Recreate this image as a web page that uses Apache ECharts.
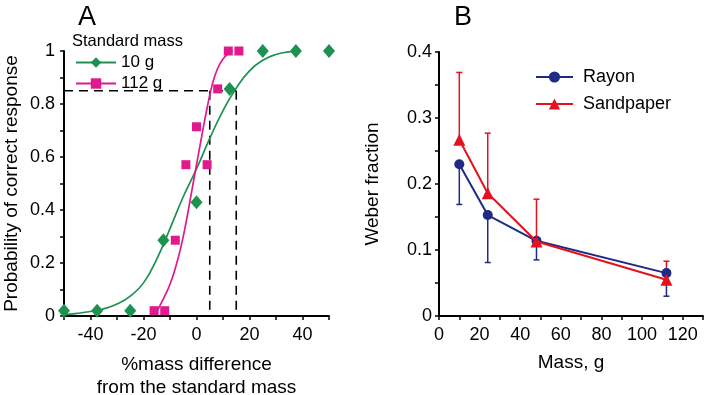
<!DOCTYPE html>
<html>
<head>
<meta charset="utf-8">
<script src="https://cdn.jsdelivr.net/npm/echarts@6/dist/echarts.min.js"></script>
<style>html,body{margin:0;padding:0;background:#fff;}#main{width:706px;height:395px;}</style>
</head>
<body>
<div id="main"></div>
<script>
// ---- Panel A data ----
const diff10 = [-50, -37.5, -25, -12.5, 0, 12.5, 25, 37.5, 50];
const prob10 = [0.02, 0.02, 0.02, 0.286, 0.429, 0.857, 1, 1, 1];
const diff112 = [-16, -12, -8, -4, 0, 4, 8, 12, 16];
const prob112 = [0.02, 0.02, 0.286, 0.571, 0.714, 0.571, 0.857, 1, 1];
// fitted curves
const fit10X = [-50, -45, -40, -35, -30, -25, -20, -15, -10, -5, 0, 5, 10, 15, 20, 25, 30, 35, 37.5];
const fit10Y = [0.005, 0.01, 0.017, 0.027, 0.045, 0.075, 0.125, 0.215, 0.33, 0.45, 0.555, 0.67, 0.775, 0.86, 0.925, 0.965, 0.987, 0.997, 1.0];
const fit112X = [-15, -14, -12, -10, -8, -6, -4, -2, 0, 2, 4, 6, 8, 10, 12, 13.5];
const fit112Y = [0.015, 0.035, 0.075, 0.12, 0.18, 0.255, 0.35, 0.46, 0.57, 0.68, 0.785, 0.875, 0.935, 0.97, 0.99, 1.0];
// threshold (dashed) lines
const thresholdP = 0.85;
const thresholdX = [5, 15];
// ---- Panel B data ----
const mass = [10, 24, 48, 112];
const rayon = [0.23, 0.153, 0.114, 0.065];
const rayonLow = [0.169, 0.081, 0.085, 0.030];
const sand = [0.267, 0.186, 0.113, 0.055];
const sandHigh = [0.369, 0.277, 0.177, 0.083];

const GREEN = '#1c9150', PINK = '#e0198c', NAVY = '#1f2a86', RED = '#e3121e';
const FONT = 'Liberation Sans, Arial, sans-serif';

const zip = (a, b) => a.map((v, i) => [v, b[i]]);

function errRender(color) {
  return function (params, api) {
    const x = api.value(0);
    const p1 = api.coord([x, api.value(1)]);
    const p2 = api.coord([x, api.value(2)]);
    return {
      type: 'group',
      children: [
        { type: 'line', shape: { x1: p1[0], y1: p1[1], x2: p2[0], y2: p2[1] }, style: { stroke: color, lineWidth: 1.5 } },
        { type: 'line', shape: { x1: p2[0] - 3, y1: p2[1], x2: p2[0] + 3, y2: p2[1] }, style: { stroke: color, lineWidth: 1.5 } }
      ]
    };
  };
}

const axisCommon = {
  axisLine: { onZero: false, lineStyle: { color: '#000', width: 2 } },
  axisTick: { length: 4, lineStyle: { color: '#000', width: 1.5 } },
  splitLine: { show: false },
  nameTextStyle: { color: '#000', fontSize: 19, fontFamily: FONT },
};

const chart = echarts.init(document.getElementById('main'), null, { renderer: 'canvas' });
chart.setOption({
  animation: false,
  backgroundColor: '#fff',
  textStyle: { fontFamily: FONT },
  title: [
    { text: 'A', left: 73, top: -1, textStyle: { fontSize: 27, fontWeight: 'normal', color: '#000', fontFamily: FONT } },
    { text: 'B', left: 449, top: -1, textStyle: { fontSize: 27, fontWeight: 'normal', color: '#000', fontFamily: FONT } }
  ],
  graphic: [
    { type: 'text', left: 72, top: 33, style: { text: 'Standard mass', fontSize: 16.5, fill: '#000', fontFamily: FONT } }
  ],
  legend: [
    { data: ['10 g', '112 g'], orient: 'vertical', left: 75, top: 54, padding: 0, itemWidth: 40, itemHeight: 13, itemGap: 4,
      textStyle: { fontSize: 17, color: '#000', fontFamily: FONT } },
    { data: ['Rayon', 'Sandpaper'], orient: 'vertical', left: 535, top: 68, padding: 0, itemWidth: 37, itemHeight: 14, itemGap: 9,
      textStyle: { fontSize: 18, color: '#000', fontFamily: FONT, padding: [0, 0, 0, 5] } }
  ],
  grid: [
    { left: 64, top: 51, width: 265, height: 265, outerBoundsMode: 'none', containLabel: false },
    { left: 439, top: 52, width: 264, height: 264, outerBoundsMode: 'none', containLabel: false }
  ],
  xAxis: [
    Object.assign({}, axisCommon, {
      gridIndex: 0, type: 'value', min: -50, max: 50, interval: 10,
      name: '%mass difference\nfrom the standard mass', nameLocation: 'middle', nameGap: 37,
      nameTextStyle: { color: '#000', fontSize: 19, fontFamily: FONT, lineHeight: 23 },
      axisLabel: { color: '#000', fontSize: 18, margin: 10, fontFamily: FONT,
        formatter: v => (Math.round(v) % 20 === 0 && Math.abs(v) < 50) ? String(v) : '' }
    }),
    Object.assign({}, axisCommon, {
      gridIndex: 1, type: 'value', min: 0, max: 130, interval: 10,
      name: 'Mass, g', nameLocation: 'middle', nameGap: 37,
      axisLabel: { color: '#000', fontSize: 18, margin: 10, fontFamily: FONT,
        formatter: v => (Math.round(v) % 20 === 0 && v <= 120) ? String(v) : '' }
    })
  ],
  yAxis: [
    Object.assign({}, axisCommon, {
      gridIndex: 0, type: 'value', min: 0, max: 1, interval: 0.1,
      name: 'Probability of correct response', nameLocation: 'middle', nameGap: 43,
      axisLabel: { color: '#000', fontSize: 18, margin: 9, fontFamily: FONT,
        formatter: v => { const k = Math.round(v * 10); return k % 2 === 0 ? String(k / 10) : ''; } }
    }),
    Object.assign({}, axisCommon, {
      gridIndex: 1, type: 'value', min: 0, max: 0.4, interval: 0.05,
      name: 'Weber fraction', nameLocation: 'middle', nameGap: 57,
      axisLabel: { color: '#000', fontSize: 18, margin: 7, fontFamily: FONT,
        formatter: v => { const k = Math.round(v * 20); return k % 2 === 0 ? String(k / 20) : ''; } }
    })
  ],
  series: [
    { name: '10 g', type: 'line', xAxisIndex: 0, yAxisIndex: 0, data: zip(fit10X, fit10Y), smooth: 0.5,
      symbol: 'diamond', showSymbol: false, color: GREEN, lineStyle: { color: GREEN, width: 1.7 }, itemStyle: { color: GREEN }, z: 2 },
    { name: '112 g', type: 'line', xAxisIndex: 0, yAxisIndex: 0, data: zip(fit112X, fit112Y), smooth: 0.5,
      symbol: 'rect', showSymbol: false, color: PINK, lineStyle: { color: PINK, width: 1.7 }, itemStyle: { color: PINK }, z: 2 },
    { type: 'line', xAxisIndex: 0, yAxisIndex: 0, data: [[-50, thresholdP], [thresholdX[1], thresholdP]], symbol: 'none',
      lineStyle: { color: '#000', width: 1.6, type: [9, 6] }, z: 1 },
    { type: 'line', xAxisIndex: 0, yAxisIndex: 0, data: [[thresholdX[0], thresholdP], [thresholdX[0], 0]], symbol: 'none',
      lineStyle: { color: '#000', width: 1.6, type: [9, 6] }, z: 1 },
    { type: 'line', xAxisIndex: 0, yAxisIndex: 0, data: [[thresholdX[1], thresholdP], [thresholdX[1], 0]], symbol: 'none',
      lineStyle: { color: '#000', width: 1.6, type: [9, 6] }, z: 1 },
    { name: '10 g points', type: 'scatter', xAxisIndex: 0, yAxisIndex: 0, data: zip(diff10, prob10),
      symbol: 'diamond', symbolSize: [12, 14], itemStyle: { color: GREEN, opacity: 1 }, z: 4 },
    { name: '112 g points', type: 'scatter', xAxisIndex: 0, yAxisIndex: 0, data: zip(diff112, prob112),
      symbol: 'rect', symbolSize: 9, itemStyle: { color: PINK, opacity: 1 }, z: 3 },
    { type: 'custom', xAxisIndex: 1, yAxisIndex: 1, renderItem: errRender(NAVY),
      data: mass.map((m, i) => [m, rayon[i], rayonLow[i]]), encode: { x: 0, y: [1, 2] }, z: 2 },
    { type: 'custom', xAxisIndex: 1, yAxisIndex: 1, renderItem: errRender(RED),
      data: mass.map((m, i) => [m, sand[i], sandHigh[i]]), encode: { x: 0, y: [1, 2] }, z: 2 },
    { name: 'Rayon', type: 'line', xAxisIndex: 1, yAxisIndex: 1, data: zip(mass, rayon),
      symbol: 'circle', symbolSize: 10, color: NAVY, lineStyle: { color: NAVY, width: 2 }, itemStyle: { color: NAVY }, z: 3 },
    { name: 'Sandpaper', type: 'line', xAxisIndex: 1, yAxisIndex: 1, data: zip(mass, sand),
      symbol: 'triangle', symbolSize: 12, color: RED, lineStyle: { color: RED, width: 2 }, itemStyle: { color: RED }, z: 4 }
  ]
});
</script>
</body>
</html>
